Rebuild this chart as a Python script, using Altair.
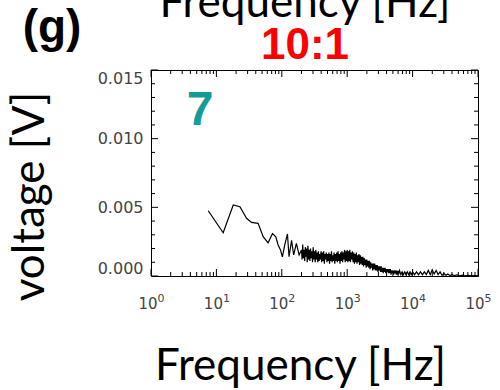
import altair as alt
import pandas as pd

# ---- data ----
freq_hz = [
    # sparse low-frequency part
    7.5, 12.7, 18.1, 22.9, 28.9, 34.4, 43.4, 51.9, 61.7, 72.1, 80.9, 87.9, 95.5,
    102, 111, 122, 129, 141, 152, 167, 184, 200,
    # dense noisy band
    204, 209, 214, 219, 224, 229, 234, 240, 245, 251,
    257, 263, 269, 275, 282, 288, 295, 302, 309, 316,
    324, 331, 339, 347, 355, 363, 372, 380, 389, 398,
    407, 417, 427, 437, 447, 457, 468, 479, 490, 501,
    513, 525, 537, 550, 562, 575, 589, 603, 617, 631,
    646, 661, 676, 692, 708, 724, 741, 759, 776, 794,
    813, 832, 851, 871, 891, 912, 933, 955, 977, 1000,
    1023, 1047, 1072, 1096, 1122, 1148, 1175, 1202, 1230, 1259,
    1288, 1318, 1349, 1380, 1413, 1445, 1479, 1514, 1549, 1585,
    1622, 1660, 1698, 1738, 1778, 1820, 1862, 1905, 1950, 1995,
    2042, 2089, 2138, 2188, 2239, 2291, 2344, 2399, 2455, 2512,
    2570, 2630, 2692, 2754, 2818, 2884, 2951, 3020, 3090, 3162,
    3236, 3311, 3388, 3467, 3548, 3631, 3715, 3802, 3890, 3981,
    4074, 4169, 4266, 4365, 4467, 4571, 4677, 4786, 4898, 5012,
    5129, 5248, 5370, 5495, 5623, 5754, 5888, 6026, 6166, 6310,
    6607, 6918, 7244, 7586, 7943, 8318, 8710, 9120, 9550, 10000,
    10715, 11482, 12303, 13183, 14125, 15136, 16218, 17378, 18621, 19953,
    21380, 22909, 24547, 26303, 28184, 30200, 32359, 34674, 37154, 39811,
    43652, 47863, 52481, 57544, 63096, 70795, 79433, 89125, 97724,
]
voltage_v = [
    0.00475, 0.00315, 0.00517, 0.00504, 0.0042, 0.0039, 0.00383, 0.00286,
    0.00242, 0.0031, 0.00286, 0.00226, 0.0019, 0.0014, 0.00226, 0.00306,
    0.0014, 0.0026, 0.00153, 0.00238, 0.00153, 0.0019,
    0.0012, 0.0023, 0.0013, 0.0019, 0.0011, 0.0021, 0.0014, 0.0020, 0.0010, 0.0022,
    0.0012, 0.0019, 0.0011, 0.0020, 0.0013, 0.0018, 0.0010, 0.0021, 0.0012, 0.0018,
    0.0010, 0.0019, 0.0012, 0.0017, 0.0010, 0.0018, 0.0011, 0.0016, 0.0012, 0.0018,
    0.0010, 0.0017, 0.0011, 0.0018, 0.0009, 0.0016, 0.0012, 0.0017, 0.0010, 0.0016,
    0.0011, 0.0017, 0.0009, 0.0016, 0.0011, 0.0018, 0.0010, 0.0015, 0.0011, 0.0017,
    0.0009, 0.0016, 0.0011, 0.0017, 0.0010, 0.0018, 0.0011, 0.0016, 0.0009, 0.0017,
    0.0011, 0.0018, 0.0010, 0.0017, 0.0012, 0.0019, 0.0010, 0.0018, 0.0011, 0.0019,
    0.0010, 0.0018, 0.0011, 0.0019, 0.0010, 0.0017, 0.0012, 0.0018, 0.0010, 0.0017,
    0.0009, 0.0016, 0.0010, 0.0017, 0.0009, 0.0015, 0.0010, 0.0016, 0.0008, 0.0015,
    0.0009, 0.0014, 0.0008, 0.0014, 0.0007, 0.0013, 0.0008, 0.0012, 0.0006, 0.0012,
    0.0007, 0.0011, 0.0006, 0.0011, 0.0005, 0.0010, 0.0006, 0.0009, 0.0004, 0.0009,
    0.0005, 0.0009, 0.0004, 0.0008, 0.0004, 0.0008, 0.0003, 0.0007, 0.0004, 0.0007,
    0.0003, 0.0007, 0.0003, 0.0006, 0.0002, 0.0006, 0.0003, 0.0006, 0.0002, 0.0005,
    0.0003, 0.0005, 0.0002, 0.0005, 0.0002, 0.0005, 0.0001, 0.0004, 0.0002, 0.0004,
    0.0001, 0.0004, 0.0002, 0.0004, 0.0001, 0.0004, 0.0001, 0.0003, 0.0002, 0.0004,
    0.0001, 0.0003, 0.0001, 0.0003, 0.0001, 0.0003, 0.0001, 0.0003, 0.0001, 0.0003,
    0.0001, 0.0003, 0.0001, 0.0003, 0.0001, 0.0003, 0.0001, 0.0004, 0.0001, 0.00045,
    0.00015, 0.0004, 0.0001, 0.0003, 0.00005, 0.0002, 0.00005, 0.00015, 0.00003, 0.0001,
    0.00003, 0.00008, 0.00002, 0.00006, 0.00002, 0.00005, 0.00002, 0.00003, 0.00001,
]

x_major = [1, 10, 100, 1000, 10000, 100000]
x_bases = ["10", "10", "10", "10", "10", "10"]
x_exponents = ["0", "1", "2", "3", "4", "5"]
x_minor = [2, 3, 4, 5, 6, 7, 8, 9,
           20, 30, 40, 50, 60, 70, 80, 90,
           200, 300, 400, 500, 600, 700, 800, 900,
           2000, 3000, 4000, 5000, 6000, 7000, 8000, 9000,
           20000, 30000, 40000, 50000, 60000, 70000, 80000, 90000]
y_major = [0.0, 0.005, 0.010, 0.015]
y_minor = [0.001, 0.002, 0.003, 0.004, 0.006, 0.007, 0.008, 0.009,
           0.011, 0.012, 0.013, 0.014]

panel_label = "(g)"
ratio_label = "10:1"
number_label = "7"
x_title = "Frequency [Hz]"
y_title = "voltage [V]"

# ---- layout ----
W, H = 327, 206
MAJ, MIN = 7, 4
TICK_GRAY = "#444"
xscale = alt.Scale(type="log", domain=[1, 100000], nice=False)
yscale = alt.Scale(domain=[0, 0.015], nice=False, zero=True)

x_axis = alt.Axis(
    values=x_major, labels=False, grid=False, ticks=False, domain=False,
    title=x_title, titleFont="Lato", titleFontSize=44,
    titleFontWeight="normal", titleColor="black",
    titleX=149, titleY=103, titleAlign="center",
    titleBaseline="alphabetic")
y_axis = alt.Axis(
    values=y_major, format=".3f", labelFlush=True, grid=False,
    ticks=False, domain=False, labelPadding=8,
    labelFont="DejaVu Sans", labelFontSize=16, labelColor=TICK_GRAY,
    title=y_title, titleFont="Lato", titleFontSize=44,
    titleFontWeight="normal", titleColor="black", titleAngle=270,
    titleX=-108, titleY=126, titleAlign="center",
    titleBaseline="alphabetic")

X = dict(scale=xscale, axis=x_axis, title=x_title)
Y = dict(scale=yscale, axis=y_axis, title=y_title)

line = alt.Chart(pd.DataFrame({"f": freq_hz, "v": voltage_v})).mark_line(
    color="black", strokeWidth=1.2, clip=True
).encode(x=alt.X("f:Q", **X), y=alt.Y("v:Q", **Y))


def xticks(vals, length):
    base = alt.Chart(pd.DataFrame({"f": vals})).mark_rule(color="black", strokeWidth=1)
    bottom = base.encode(x=alt.X("f:Q", **X), y=alt.value(H), y2=alt.value(H - length))
    top = base.encode(x=alt.X("f:Q", **X), y=alt.value(0), y2=alt.value(length))
    return [bottom, top]


def yticks(vals, length):
    base = alt.Chart(pd.DataFrame({"v": vals})).mark_rule(color="black", strokeWidth=1)
    left = base.encode(y=alt.Y("v:Q", **Y), x=alt.value(0), x2=alt.value(length))
    right = base.encode(y=alt.Y("v:Q", **Y), x=alt.value(W), x2=alt.value(W - length))
    return [left, right]


xlabels = pd.DataFrame({"f": x_major, "b": x_bases, "e": x_exponents})
bases = alt.Chart(xlabels).mark_text(
    font="DejaVu Sans", fontSize=15, color=TICK_GRAY, align="center",
    baseline="top", dx=-3
).encode(x=alt.X("f:Q", **X), y=alt.value(H + 21), text="b:N")
exponents = alt.Chart(xlabels).mark_text(
    font="DejaVu Sans", fontSize=11, color=TICK_GRAY, align="center",
    baseline="top", dx=10
).encode(x=alt.X("f:Q", **X), y=alt.value(H + 17), text="e:N")


def label(text, x, y, size, color="black", weight="bold", font="Liberation Sans"):
    return alt.Chart(pd.DataFrame({"t": [text]})).mark_text(
        font=font, fontSize=size, fontWeight=weight, color=color,
        align="center", baseline="alphabetic"
    ).encode(x=alt.value(x), y=alt.value(y), text="t:N")


layers = [line]
layers += xticks(x_major, MAJ) + xticks(x_minor, MIN)
layers += yticks(y_major, MAJ) + yticks(y_minor, MIN)
layers += [
    bases, exponents,
    label(panel_label, -99, -28, 46),
    label(x_title, 154, -53, 44, weight="normal", font="Lato"),
    label(ratio_label, 154, -11, 44, color="#ff0000"),
    label(number_label, 49, 55, 48, color="#149c98"),
]

chart = alt.layer(*layers).properties(
    width=W, height=H,
    padding={"left": 151, "top": 70, "right": 22, "bottom": 114},
    autosize=alt.AutoSizeParams(type="none"),
    background="white",
).configure_view(stroke="black", strokeWidth=1)

chart.save("out.html", embed_options={"renderer": "svg", "actions": False})
